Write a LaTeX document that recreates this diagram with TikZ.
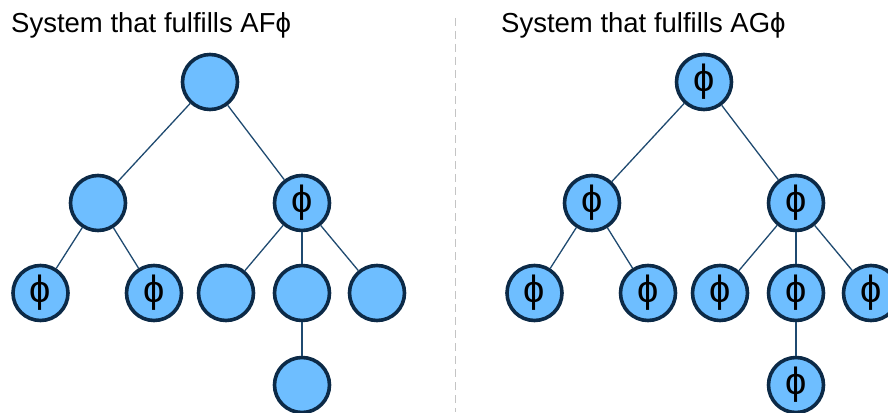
\documentclass[tikz,border=0pt]{standalone}
\usepackage{fontspec}
\setmainfont{Liberation Sans}
\definecolor{nodefill}{HTML}{6EBEFF}
\definecolor{nodeedge}{HTML}{0C2A47}
\definecolor{edgeline}{HTML}{1F4A70}
\definecolor{divider}{HTML}{C4C4C4}
\begin{document}
\begin{tikzpicture}[x=1pt,y=-1pt,
  st/.style={circle,draw=nodeedge,fill=nodefill,line width=3.6pt,minimum size=55pt,inner sep=0pt,font=\fontsize{38}{38}\selectfont},
  tr/.style={draw=edgeline,line width=1.3pt},
  title/.style={anchor=base west,inner sep=0pt,font=\fontsize{27.5}{27.5}\selectfont}]
\useasboundingbox (0,0) rectangle (888,412);
\draw[divider,line width=1.4pt,dash pattern=on 8pt off 5pt] (455.5,18) -- (455.5,412);
% left tree
\node[title] (t1) at (11,33) {System that fulfills AF\char"03D5};
\node[st] (a0) at (210,82) {};
\node[st] (a1) at (98,203) {};
\node[st] (a2) at (302,203) {\char"03D5};
\node[st] (a3) at (40.5,293) {\char"03D5};
\node[st] (a4) at (154,293) {\char"03D5};
\node[st] (a5) at (226,293) {};
\node[st] (a6) at (302,293) {};
\node[st] (a7) at (377,293) {};
\node[st] (a8) at (302,385) {};
\draw[tr] (a0) -- (a1);
\draw[tr] (a0) -- (a2);
\draw[tr] (a1) -- (a3);
\draw[tr] (a1) -- (a4);
\draw[tr] (a2) -- (a5);
\draw[tr] (a2) -- (a6);
\draw[tr] (a2) -- (a7);
\draw[tr] (a6) -- (a8);
% right tree
\node[title] (t2) at (501,33) {System that fulfills AG\char"03D5};
\node[st] (b0) at (704,82) {\char"03D5};
\node[st] (b1) at (592,203) {\char"03D5};
\node[st] (b2) at (796,203) {\char"03D5};
\node[st] (b3) at (534.5,293) {\char"03D5};
\node[st] (b4) at (648,293) {\char"03D5};
\node[st] (b5) at (720,293) {\char"03D5};
\node[st] (b6) at (796,293) {\char"03D5};
\node[st] (b7) at (871,293) {\char"03D5};
\node[st] (b8) at (796,385) {\char"03D5};
\draw[tr] (b0) -- (b1);
\draw[tr] (b0) -- (b2);
\draw[tr] (b1) -- (b3);
\draw[tr] (b1) -- (b4);
\draw[tr] (b2) -- (b5);
\draw[tr] (b2) -- (b6);
\draw[tr] (b2) -- (b7);
\draw[tr] (b6) -- (b8);
\end{tikzpicture}
\end{document}
